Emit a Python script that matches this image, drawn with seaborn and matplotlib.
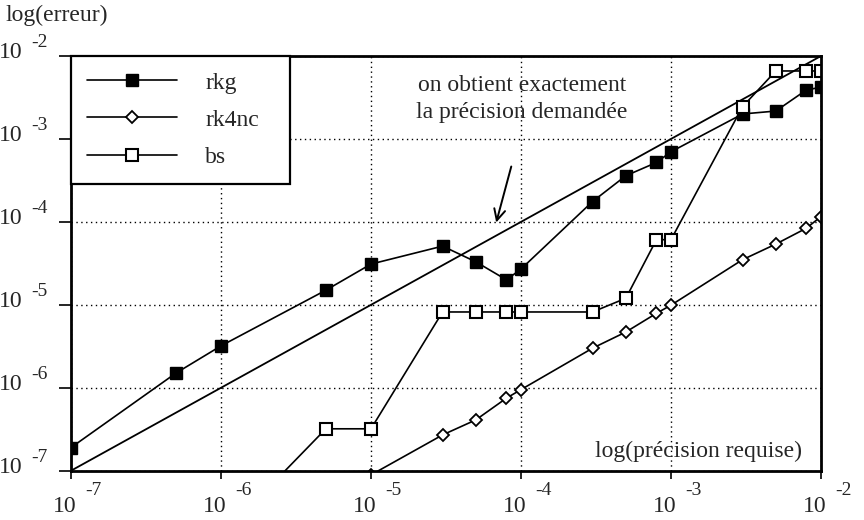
import matplotlib
matplotlib.use("Agg")
import matplotlib.pyplot as plt
import seaborn as sns
import pandas as pd

# ---------------- data ----------------
rkg_x = [1e-7, 5e-7, 1e-6, 5e-6, 1e-5, 3e-5, 5e-5, 8e-5, 1e-4,
         3e-4, 5e-4, 8e-4, 1e-3, 3e-3, 5e-3, 8e-3, 1e-2]
rkg_y = [1.9e-7, 1.5e-6, 3.2e-6, 1.5e-5, 3.1e-5, 5.1e-5, 3.3e-5, 2.0e-5, 2.7e-5,
         1.76e-4, 3.6e-4, 5.2e-4, 7.0e-4, 2.0e-3, 2.17e-3, 3.9e-3, 4.2e-3]

rk4nc_x = [1e-5, 3e-5, 5e-5, 8e-5, 1e-4, 3e-4, 5e-4, 8e-4, 1e-3,
           3e-3, 5e-3, 8e-3, 1e-2]
rk4nc_y = [8.9e-8, 2.7e-7, 4.1e-7, 7.5e-7, 9.5e-7, 3.0e-6, 4.7e-6, 7.9e-6, 9.9e-6,
           3.5e-5, 5.4e-5, 8.4e-5, 1.16e-4]

bs_x = [1e-6, 5e-6, 1e-5, 3e-5, 5e-5, 8e-5, 1e-4, 3e-4, 5e-4, 8e-4, 1e-3,
        3e-3, 5e-3, 8e-3, 1e-2]
bs_y = [1.6e-8, 3.2e-7, 3.2e-7, 8.2e-6, 8.2e-6, 8.2e-6, 8.2e-6, 8.2e-6, 1.2e-5,
        6.1e-5, 6.1e-5, 2.45e-3, 6.6e-3, 6.6e-3, 6.6e-3]

ref_x = [1e-7, 1e-6, 1e-5, 1e-4, 1e-3, 1e-2]
ref_y = [1e-7, 1e-6, 1e-5, 1e-4, 1e-3, 1e-2]

tick_values = [1e-7, 1e-6, 1e-5, 1e-4, 1e-3, 1e-2]
tick_base = "10"
tick_exponents = ["-7", "-6", "-5", "-4", "-3", "-2"]

series_names = ["rkg", "rk4nc", "bs"]
ylabel_text = "log(erreur)"
xlabel_text = "log(précision requise)"
note_text = "on obtient exactement\nla précision demandée"

# ---------------- style ----------------
sns.set_style("ticks")
plt.rcParams["font.family"] = ["Liberation Serif", "DejaVu Serif"]

FS = 17
FS_EXP = 14

fig = plt.figure(figsize=(8.64, 5.2), dpi=100)
ax = fig.add_axes([0.0822, 0.0948, 0.8680, 0.7975])
ax.set_xscale("log")
ax.set_yscale("log")

# reference line y = x
sns.lineplot(data=pd.DataFrame({"x": ref_x, "y": ref_y}), x="x", y="y",
             ax=ax, color="black", linewidth=1.3, estimator=None, sort=False)

line_kw = dict(color="black", linewidth=1.2, estimator=None, sort=False)
sns.lineplot(data=pd.DataFrame({"x": rkg_x, "y": rkg_y}), x="x", y="y", ax=ax,
             marker="s", markersize=8.5, markerfacecolor="black",
             markeredgecolor="black", markeredgewidth=1.0,
             label=series_names[0], **line_kw)
sns.lineplot(data=pd.DataFrame({"x": rk4nc_x, "y": rk4nc_y}), x="x", y="y", ax=ax,
             marker="D", markersize=6.3, markerfacecolor="white",
             markeredgecolor="black", markeredgewidth=1.3,
             label=series_names[1], **line_kw)
sns.lineplot(data=pd.DataFrame({"x": bs_x, "y": bs_y}), x="x", y="y", ax=ax,
             marker="s", markersize=8.5, markerfacecolor="white",
             markeredgecolor="black", markeredgewidth=1.5,
             label=series_names[2], **line_kw)

ax.set_xlim(1e-7, 1e-2)
ax.set_ylim(1e-7, 1e-2)
ax.set_xlabel("")
ax.set_ylabel("")

ax.set_xticks(tick_values)
ax.set_yticks(tick_values)
ax.set_xticklabels([""] * len(tick_values))
ax.set_yticklabels([""] * len(tick_values))
ax.minorticks_off()
ax.tick_params(axis="x", direction="out", length=6, width=1.2, colors="black")
ax.tick_params(axis="y", direction="out", length=9, width=1.2, colors="black")

# tick labels: "10" with a raised exponent, as in the reference
for v, e in zip(tick_values, tick_exponents):
    # x axis
    ax.annotate(tick_base, xy=(v, 0), xycoords=("data", "axes fraction"),
                xytext=(-6, -41), textcoords="offset pixels", ha="center",
                va="baseline", fontsize=FS, annotation_clip=False)
    ax.annotate(e, xy=(v, 0), xycoords=("data", "axes fraction"),
                xytext=(14, -24), textcoords="offset pixels", ha="left",
                va="baseline", fontsize=FS_EXP, annotation_clip=False)
    # y axis
    ax.annotate(tick_base, xy=(0, v), xycoords=("axes fraction", "data"),
                xytext=(-48, -2), textcoords="offset pixels", ha="right",
                va="baseline", fontsize=FS, annotation_clip=False)
    ax.annotate(e, xy=(0, v), xycoords=("axes fraction", "data"),
                xytext=(-40, 9), textcoords="offset pixels", ha="left",
                va="baseline", fontsize=FS_EXP, annotation_clip=False)

ax.grid(True, which="major", color="black", linestyle=(0, (1, 2.5)), linewidth=1.0)
for sp in ax.spines.values():
    sp.set_visible(True)
    sp.set_linewidth(2.0)
    sp.set_color("black")

handles, labels = ax.get_legend_handles_labels()
leg = ax.legend(handles, labels, loc="upper left",
                bbox_to_anchor=(0, 0, 219 / 750, 1), mode="expand",
                borderaxespad=0, fontsize=FS, handlelength=3.8,
                handletextpad=1.2, labelspacing=0.66, borderpad=0.68,
                fancybox=False, framealpha=1, edgecolor="black")
leg.get_frame().set_linewidth(1.6)

ax.text(0.601, 0.896, note_text, transform=ax.transAxes, ha="center",
        va="center", fontsize=FS, linespacing=1.35)
ax.annotate("", xy=(10 ** -4.17, 10 ** -4.04), xytext=(10 ** -4.06, 10 ** -3.30),
            arrowprops=dict(arrowstyle="->", color="black", lw=1.4,
                            mutation_scale=20))

ax.text(0.975, 0.046, xlabel_text, transform=ax.transAxes, ha="right",
        va="center", fontsize=FS)
fig.text(0.006, 1 - 15 / 520, ylabel_text, ha="left", va="center", fontsize=FS)

fig.savefig("out.png", dpi=100)
